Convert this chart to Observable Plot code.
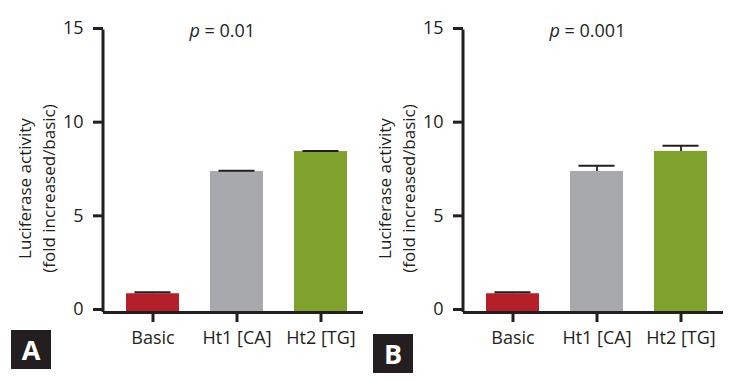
<!DOCTYPE html>
<html>
<head>
<meta charset="utf-8">
<script src="https://cdn.jsdelivr.net/npm/d3@7"></script>
<script src="https://cdn.jsdelivr.net/npm/@observablehq/plot@0.6"></script>
<style>
  html, body { margin: 0; padding: 0; background: #fff; }
  #wrap { position: relative; width: 737px; height: 380px; overflow: hidden; font-family: "Open Sans", sans-serif; }
  .panel { position: absolute; top: 0; }
  .tag { position: absolute; width: 40px; height: 39px; background: #231F20; color: #fff;
         font-family: "Open Sans", sans-serif; font-weight: bold; font-size: 27px; line-height: 39px;
         text-align: center; }
</style>
</head>
<body>
<div id="wrap"></div>
<script>
// ---- data ----
const categories = ["Basic", "Ht1 [CA]", "Ht2 [TG]"];
const colors = ["#B51F29", "#A8A9AC", "#7FA22C"];
const meansA = [1.0, 7.53, 8.59];
const errA = [0.05, 0.01, 0.01];
const meansB = [1.0, 7.53, 8.6];
const errB = [0.05, 0.28, 0.27];
const pValuesText = ["p = 0.01", "p = 0.001"];
const panelTags = ["A", "B"];
const yTicks = [0, 5, 10, 15];
const yLabel = "Luciferase activity\n(fold increased/basic)";

const FONT = '"Open Sans", sans-serif';
const INK = "#231F20";
const NS = "http://www.w3.org/2000/svg";

function panel(means, errs, pText) {
  const data = categories.map((c, i) => ({cat: c, mean: means[i], err: errs[i], top: means[i] + errs[i], color: colors[i]}));
  const yAxisLine = (index, scales, values, dims) => {
    const l = document.createElementNS(NS, "line");
    l.setAttribute("x1", dims.marginLeft);
    l.setAttribute("x2", dims.marginLeft);
    l.setAttribute("y1", scales.y(d3.max(yTicks)) - 1.5);
    l.setAttribute("y2", scales.y(0));
    l.setAttribute("stroke", INK);
    l.setAttribute("stroke-width", 3);
    return l;
  };
  // error-bar caps: 68% of the bar width, centred on each band
  const caps = (index, scales) => {
    const g = document.createElementNS(NS, "g");
    const bw = scales.x.bandwidth ? scales.x.bandwidth() : 0;
    for (const d of data) {
      const cx = scales.x(d.cat) + bw / 2;
      const half = bw * 0.34;
      const l = document.createElementNS(NS, "line");
      l.setAttribute("x1", cx - half);
      l.setAttribute("x2", cx + half);
      l.setAttribute("y1", scales.y(d.top));
      l.setAttribute("y2", scales.y(d.top));
      l.setAttribute("stroke", INK);
      l.setAttribute("stroke-width", 2);
      g.appendChild(l);
    }
    return g;
  };
  const svg = Plot.plot({
    width: 368,
    height: 380,
    marginLeft: 103,
    marginRight: 5,
    marginTop: 31,
    marginBottom: 68,
    style: {fontFamily: FONT, fontSize: "18px", color: INK, background: "transparent", overflow: "visible"},
    x: {domain: categories, paddingInner: 0.369, paddingOuter: 0.232, align: 0.59, label: null},
    y: {domain: [0, 15], label: null},
    marks: [
      Plot.barY(data, {x: "cat", y: "mean", fill: "color"}),
      Plot.ruleX(data, {x: "cat", y1: "mean", y2: "top", stroke: "#3a3a3a", strokeWidth: 2}),
      caps,
      Plot.ruleY([0], {stroke: INK, strokeWidth: 3}),
      yAxisLine,
      Plot.axisY({ticks: yTicks, tickSize: 10, tickPadding: 10, stroke: INK, fontSize: 18, dy: -3, label: null}),
      Plot.axisX({tickSize: 10, tickPadding: 9, stroke: INK, fontSize: 18, label: null}),
      Plot.text([yLabel], {frameAnchor: "left", text: d => d, rotate: -90, dx: -68, dy: 16.5,
        fontSize: 17, lineHeight: 1.4, textAnchor: "middle", lineAnchor: "middle", fill: INK}),
      Plot.text([{cat: categories[1], y: d3.max(yTicks)}], {x: "cat", y: "y", text: () => pText,
        textAnchor: "start", lineAnchor: "middle", dx: -47.5, fontSize: 18, fill: INK})
    ]
  });
  // thicken axis ticks
  d3.select(svg).selectAll('g[aria-label$="tick"]').attr("stroke-width", 3);
  // italic "p"
  d3.select(svg).selectAll("text").each(function () {
    const t = this.textContent;
    if (t === pText) {
      const sel = d3.select(this);
      sel.text(null);
      sel.append("tspan").attr("font-style", "italic").text(t.slice(0, 1));
      sel.append("tspan").text(t.slice(1));
    }
  });
  return svg;
}

const wrap = document.getElementById("wrap");
const pA = panel(meansA, errA, pValuesText[0]);
pA.classList.add("panel"); pA.style.left = "0px";
const pB = panel(meansB, errB, pValuesText[1]);
pB.classList.add("panel"); pB.style.left = "360px";
wrap.appendChild(pA);
wrap.appendChild(pB);

const tagPos = [{left: 11, top: 330}, {left: 373, top: 334}];
panelTags.forEach((t, i) => {
  const d = document.createElement("div");
  d.className = "tag";
  d.textContent = t;
  d.style.left = tagPos[i].left + "px";
  d.style.top = tagPos[i].top + "px";
  wrap.appendChild(d);
});
</script>
</body>
</html>
